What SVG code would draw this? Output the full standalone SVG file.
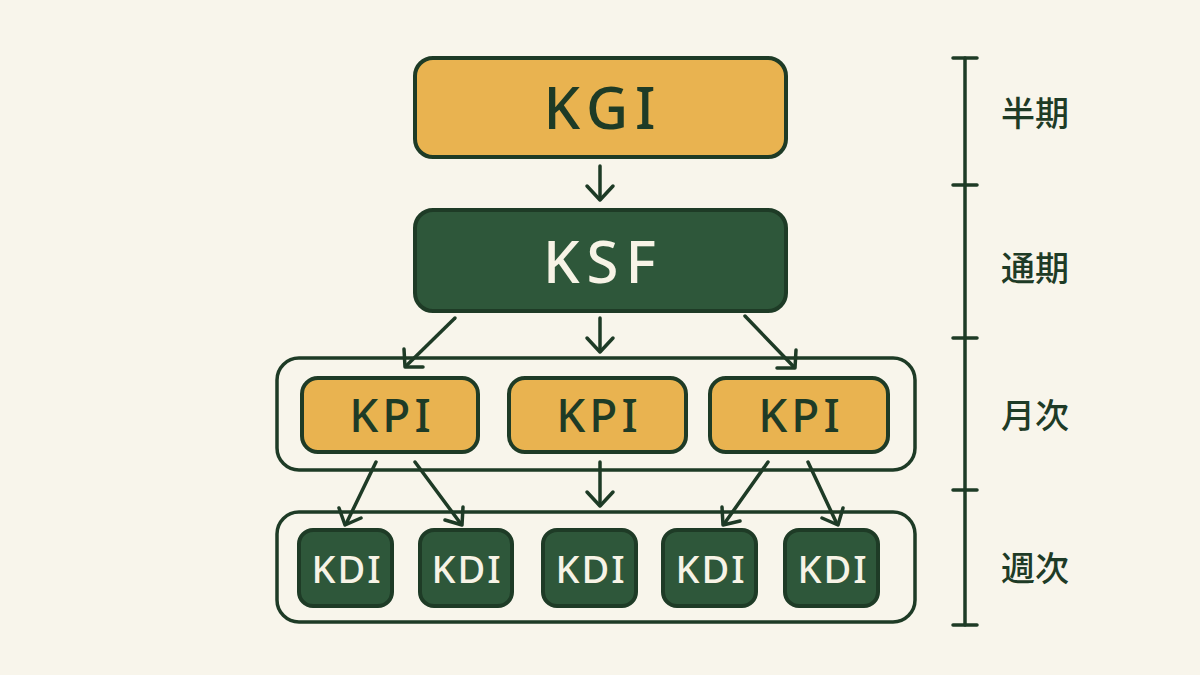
<svg xmlns="http://www.w3.org/2000/svg" width="1200" height="675" viewBox="0 0 1200 675">
<defs>
<style>
.bg{fill:#f8f5eb}
.amber{fill:#e9b350;stroke:#1e3b26;stroke-width:4}
.green{fill:#2e573a;stroke:#1e3b26;stroke-width:4}
.frame{fill:none;stroke:#1e3b26;stroke-width:3.5}
.conn{fill:none;stroke:#1e3b26;stroke-width:3.5;stroke-linecap:round}
.head{fill:none;stroke:#1e3b26;stroke-width:3.5;stroke-linecap:round;stroke-linejoin:round}
.t{font-family:"Noto Sans","Liberation Sans",sans-serif;text-anchor:middle;font-weight:500}
.dark{fill:#1e3b26}
.light{fill:#f7f3e6}
.big{font-size:58px;letter-spacing:7px}
.mid{font-size:46px;letter-spacing:4px}
.sm{font-size:38px;letter-spacing:2px}
.jp{font-family:"Noto Sans CJK JP","Noto Sans",sans-serif;font-size:34px;fill:#1e3b26;text-anchor:middle;font-weight:500}
</style>
</defs>
<rect class="bg" x="0" y="0" width="1200" height="675"/>

<g id="frames">
<rect class="frame" x="277" y="358" width="638" height="112" rx="22"/>
<rect class="frame" x="277" y="512" width="638" height="110" rx="22"/>
</g>

<g id="kgi">
<rect class="amber" x="415" y="58" width="371" height="99" rx="18"/>
<text class="t dark big" x="603" y="129">KGI</text>
</g>
<g id="ksf">
<rect class="green" x="415" y="210" width="371" height="101" rx="18"/>
<text class="t light big" x="603" y="283">KSF</text>
</g>

<g id="kpi1">
<rect class="amber" x="302" y="378" width="176" height="74" rx="16"/>
<text class="t dark mid" x="392" y="432">KPI</text>
</g>
<g id="kpi2">
<rect class="amber" x="509" y="378" width="177" height="74" rx="16"/>
<text class="t dark mid" x="599" y="432">KPI</text>
</g>
<g id="kpi3">
<rect class="amber" x="710" y="378" width="178" height="74" rx="16"/>
<text class="t dark mid" x="801" y="432">KPI</text>
</g>

<g id="kdi1">
<rect class="green" x="299" y="530" width="93" height="76" rx="14"/>
<text class="t light sm" x="347" y="583">KDI</text>
</g>
<g id="kdi2">
<rect class="green" x="420" y="530" width="92" height="76" rx="14"/>
<text class="t light sm" x="467" y="583">KDI</text>
</g>
<g id="kdi3">
<rect class="green" x="543" y="530" width="93" height="76" rx="14"/>
<text class="t light sm" x="591" y="583">KDI</text>
</g>
<g id="kdi4">
<rect class="green" x="663" y="530" width="93" height="76" rx="14"/>
<text class="t light sm" x="711" y="583">KDI</text>
</g>
<g id="kdi5">
<rect class="green" x="785" y="530" width="93" height="76" rx="14"/>
<text class="t light sm" x="833" y="583">KDI</text>
</g>

<g id="connectors">
<path class="conn" d="M600,166 L600,199"/><path class="head" d="M587,186 L600,200 L613,186"/>
<path class="conn" d="M455,318 L406,366"/><path class="head" d="M404,349 L405,367 L423,367"/>
<path class="conn" d="M600,318 L600,351"/><path class="head" d="M587,338 L600,352 L613,338"/>
<path class="conn" d="M745,316 L794,367"/><path class="head" d="M777,368 L795,368 L796,350"/>
<path class="conn" d="M376,462 L346,524"/><path class="head" d="M339,508 L345,525 L361,518"/>
<path class="conn" d="M415,462 L461,524"/><path class="head" d="M445,520 L462,525 L463,507"/>
<path class="conn" d="M600,462 L600,505"/><path class="head" d="M587,492 L600,506 L613,492"/>
<path class="conn" d="M768,462 L724,524"/><path class="head" d="M722,507 L723,525 L740,521"/>
<path class="conn" d="M808,462 L837,524"/><path class="head" d="M822,518 L838,525 L843,508"/>
</g>

<g id="timeline">
<path class="conn" d="M965,58 L965,625"/>
<path class="conn" d="M953,58 L977,58 M953,185 L977,185 M953,338 L977,338 M953,490 L977,490 M953,625 L977,625"/>
<text class="jp" x="1035" y="126">半期</text>
<text class="jp" x="1035" y="281">通期</text>
<text class="jp" x="1035" y="428">月次</text>
<text class="jp" x="1035" y="581">週次</text>
</g>
</svg>
